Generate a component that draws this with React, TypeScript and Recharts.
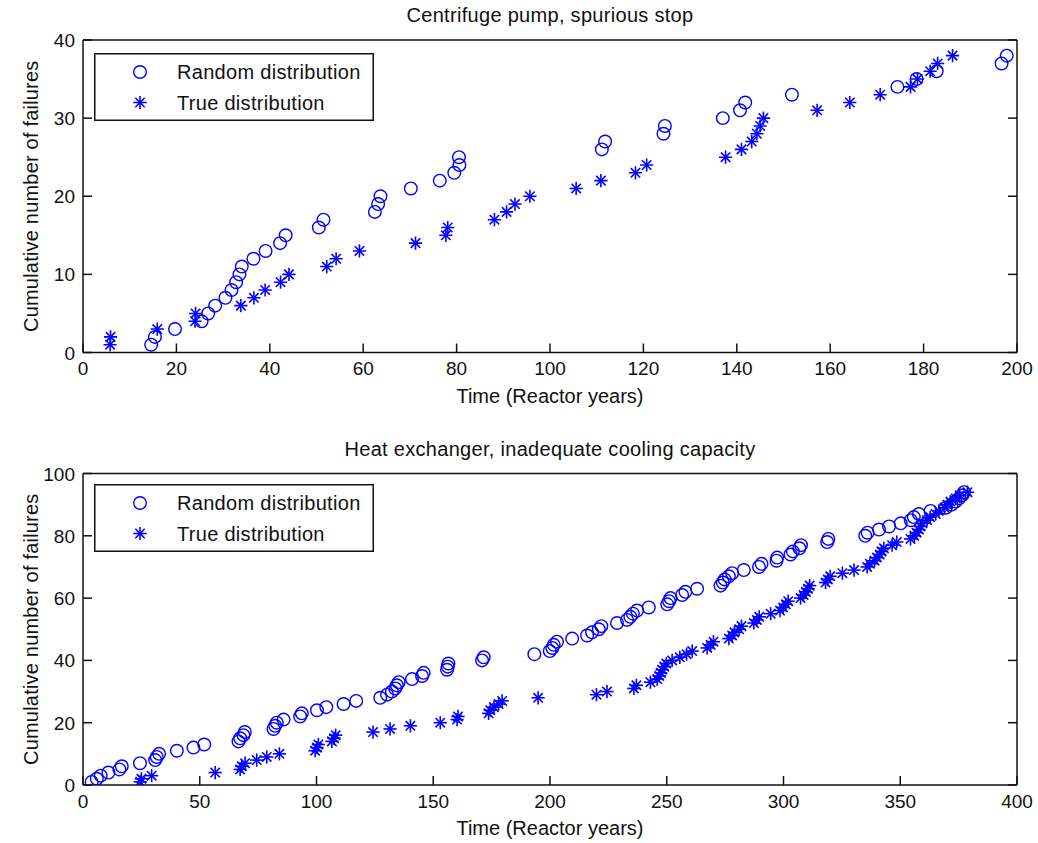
import React from "react";
import { ScatterChart, Scatter, XAxis, YAxis, Legend } from "recharts";

// [time in reactor years, cumulative failures]
const pumpRandom: [number, number][] = [
  [14.6, 1], [15.4, 2], [19.7, 3], [25.4, 4], [26.8, 5], [28.3, 6], [30.5, 7], [31.8, 8],
  [32.8, 9], [33.5, 10], [34.0, 11], [36.5, 12], [39.1, 13], [42.2, 14], [43.4, 15], [50.5, 16],
  [51.5, 17], [62.5, 18], [63.2, 19], [63.7, 20], [70.2, 21], [76.4, 22], [79.5, 23], [80.6, 24],
  [80.5, 25], [111.1, 26], [111.8, 27], [124.3, 28], [124.6, 29], [137.0, 30], [140.7, 31],
  [141.8, 32], [151.8, 33], [174.4, 34], [178.5, 35], [182.8, 36], [196.7, 37], [197.8, 38],
];

const pumpTrue: [number, number][] = [
  [5.8, 1], [5.9, 2], [15.9, 3], [24.0, 4], [24.1, 5], [33.8, 6], [36.6, 7], [39.0, 8],
  [42.3, 9], [44.1, 10], [52.2, 11], [54.2, 12], [59.2, 13], [71.2, 14], [77.7, 15], [78.1, 16],
  [88.1, 17], [90.7, 18], [92.5, 19], [95.7, 20], [105.6, 21], [110.9, 22], [118.3, 23],
  [120.7, 24], [137.6, 25], [141.0, 26], [143.2, 27], [144.3, 28], [145.0, 29], [145.7, 30],
  [157.2, 31], [164.2, 32], [170.7, 33], [177.2, 34], [178.7, 35], [181.4, 36], [183.0, 37],
  [186.2, 38],
];

const hxRandom: [number, number][] = [
  [3.7, 1], [5.9, 2], [7.6, 3], [10.9, 4], [15.6, 5], [16.6, 6], [24.4, 7], [30.9, 8],
  [31.6, 9], [32.6, 10], [40.2, 11], [47.3, 12], [51.9, 13], [66.6, 14], [67.3, 15], [68.7, 16],
  [69.3, 17], [81.6, 18], [82.3, 19], [83.0, 20], [85.9, 21], [93.0, 22], [93.7, 23],
  [100.2, 24], [104.2, 25], [111.6, 26], [117.0, 27], [127.3, 28], [130.2, 29], [132.3, 30],
  [133.7, 31], [134.4, 32], [135.2, 33], [140.9, 34], [145.2, 35], [145.9, 36], [155.9, 37],
  [156.2, 38], [156.5, 39], [170.9, 40], [171.6, 41], [193.3, 42], [199.9, 43], [201.0, 44],
  [201.6, 45], [203.0, 46], [209.5, 47], [215.9, 48], [218.0, 49], [220.9, 50], [222.0, 51],
  [228.7, 52], [233.0, 53], [234.4, 54], [235.5, 55], [237.3, 56], [242.3, 57], [250.2, 58],
  [251.0, 59], [251.6, 60], [256.6, 61], [258.0, 62], [263.0, 63], [273.0, 64], [274.0, 65],
  [274.8, 66], [276.6, 67], [278.0, 68], [283.0, 69], [289.5, 70], [290.6, 71], [297.0, 72],
  [297.3, 73], [303.0, 74], [304.0, 75], [306.8, 76], [307.5, 77], [318.7, 78], [319.2, 79],
  [335.0, 80], [336.0, 81], [340.9, 82], [345.2, 83], [350.2, 84], [354.5, 85], [355.8, 86],
  [358.0, 87], [363.0, 88], [369.5, 89], [372.0, 90], [373.7, 91], [375.2, 92], [376.5, 93],
  [377.3, 94],
];

const hxTrue: [number, number][] = [
  [24.5, 1], [25.0, 2], [29.4, 3], [56.6, 4], [67.3, 5], [68.0, 6], [69.4, 7], [74.4, 8],
  [78.7, 9], [84.1, 10], [99.4, 11], [100.2, 12], [100.8, 13], [106.6, 14], [107.5, 15],
  [108.2, 16], [124.2, 17], [131.5, 18], [140.2, 19], [153.0, 20], [160.2, 21], [160.6, 22],
  [173.7, 23], [174.4, 24], [176.0, 25], [178.0, 26], [179.5, 27], [194.9, 28], [219.9, 29],
  [224.4, 30], [235.9, 31], [237.0, 32], [243.0, 33], [245.9, 34], [246.8, 35], [247.5, 36],
  [248.0, 37], [249.0, 38], [249.8, 39], [252.3, 40], [255.6, 41], [258.5, 42], [260.9, 43],
  [267.3, 44], [268.8, 45], [270.0, 46], [276.6, 47], [278.0, 48], [279.0, 49], [281.0, 50],
  [282.0, 51], [287.3, 52], [288.6, 53], [289.6, 54], [294.5, 55], [298.5, 56], [299.8, 57],
  [301.0, 58], [302.0, 59], [307.3, 60], [308.6, 61], [309.6, 62], [310.5, 63], [311.2, 64],
  [318.0, 65], [319.0, 66], [320.0, 67], [325.2, 68], [330.2, 69], [335.8, 70], [337.0, 71],
  [339.0, 72], [340.0, 73], [341.2, 74], [342.0, 75], [343.0, 76], [346.5, 77], [348.5, 78],
  [354.4, 79], [356.0, 80], [357.0, 81], [358.0, 82], [358.7, 83], [359.5, 84], [361.5, 85],
  [362.8, 86], [365.2, 87], [366.5, 88], [369.0, 89], [370.2, 90], [371.5, 91], [373.8, 92],
  [375.5, 93], [378.8, 94],
];

const pumpTicksX = [0, 20, 40, 60, 80, 100, 120, 140, 160, 180, 200];
const pumpTicksY = [0, 10, 20, 30, 40];
const hxTicksX = [0, 50, 100, 150, 200, 250, 300, 350, 400];
const hxTicksY = [0, 20, 40, 60, 80, 100];

const BLUE = "#0000ff";
const INK = "#111";
const FONT = '"Liberation Sans", Arial, Helvetica, sans-serif';
const TICK = 9;

const toPoints = (rows: [number, number][]) => rows.map(([t, n]) => ({ t, n }));

function Ring({ cx, cy }: any) {
  return <circle cx={cx} cy={cy} r={6.3} fill="none" stroke={BLUE} strokeWidth={1.4} />;
}

function Star({ cx, cy }: any) {
  const a = 6.6;
  const d = 4.7;
  return (
    <g stroke={BLUE} strokeWidth={1.6}>
      <line x1={cx - a} y1={cy} x2={cx + a} y2={cy} />
      <line x1={cx} y1={cy - a} x2={cx} y2={cy + a} />
      <line x1={cx - d} y1={cy - d} x2={cx + d} y2={cy + d} />
      <line x1={cx - d} y1={cy + d} x2={cx + d} y2={cy - d} />
    </g>
  );
}

function BottomTick({ x, y, payload }: any) {
  return (
    <g>
      <line x1={x} y1={y} x2={x} y2={y - TICK} stroke={INK} strokeWidth={1.5} />
      <text x={x} y={y + 22.5} textAnchor="middle" fontSize={19} fontFamily={FONT} fill={INK}>
        {payload.value}
      </text>
    </g>
  );
}

function TopTick({ x, y }: any) {
  return <line x1={x} y1={y} x2={x} y2={y + TICK} stroke={INK} strokeWidth={1.5} />;
}

function LeftTick({ x, y, payload }: any) {
  return (
    <g>
      <line x1={x} y1={y} x2={x + TICK} y2={y} stroke={INK} strokeWidth={1.5} />
      <text x={x - 8} y={y + 7} textAnchor="end" fontSize={19} fontFamily={FONT} fill={INK}>
        {payload.value}
      </text>
    </g>
  );
}

function RightTick({ x, y }: any) {
  return <line x1={x} y1={y} x2={x - TICK} y2={y} stroke={INK} strokeWidth={1.5} />;
}

function YLabel(props: any) {
  const vb = props.viewBox || { x: 33, width: 50, y: 40, height: 312 };
  const cx = vb.x + vb.width - 45;
  const cy = vb.y + vb.height / 2;
  return (
    <text x={cx} y={cy} transform={`rotate(-90 ${cx} ${cy})`} textAnchor="middle"
      fontSize={20} fontFamily={FONT} fill={INK} letterSpacing={0.2}>
      Cumulative number of failures
    </text>
  );
}

function LegendBox({ payload }: any) {
  const items = payload || [];
  return (
    <svg width={280} height={68} style={{ display: "block" }}>
      <rect x={0.75} y={0.75} width={278.5} height={66.5} fill="#fff" stroke={INK} strokeWidth={1.5} />
      {items.map((item: any, i: number) => {
        const cy = 19 + i * 30.5;
        return (
          <g key={item.value}>
            {i === 0 ? <Ring cx={46} cy={cy} /> : <Star cx={46} cy={cy} />}
            <text x={83} y={cy + 7} fontSize={20} fontFamily={FONT} fill={INK} letterSpacing={0.3}>
              {item.value}
            </text>
          </g>
        );
      })}
    </svg>
  );
}

const axisLine = { stroke: INK, strokeWidth: 1.5 };

function Panel({ title, xTicks, yTicks, random, truth, height, margin, legendTop }: any) {
  const xMax = xTicks[xTicks.length - 1];
  const yMax = yTicks[yTicks.length - 1];
  return (
    <ScatterChart width={1038} height={height} margin={margin}>
      <XAxis xAxisId="b" dataKey="t" type="number" domain={[0, xMax]} ticks={xTicks} interval={0}
        height={30} tickSize={0} tickMargin={0} tickLine={false} tick={<BottomTick />} axisLine={axisLine}
        allowDataOverflow
        label={{ value: "Time (Reactor years)", position: "bottom", offset: 6, fill: INK, fontSize: 20, fontFamily: FONT }} />
      <XAxis xAxisId="t" orientation="top" type="number" domain={[0, xMax]} ticks={xTicks} interval={0}
        height={20} tickSize={0} tickMargin={0} tickLine={false} tick={<TopTick />} axisLine={axisLine}
        allowDataOverflow
        label={{ value: title, position: "top", offset: -2, fill: INK, fontSize: 20, fontFamily: FONT, letterSpacing: 0.3 }} />
      <YAxis yAxisId="l" dataKey="n" type="number" domain={[0, yMax]} ticks={yTicks} interval={0}
        width={50} tickSize={0} tickMargin={0} tickLine={false} tick={<LeftTick />} axisLine={axisLine}
        allowDataOverflow label={{ content: YLabel }} />
      <YAxis yAxisId="r" orientation="right" type="number" domain={[0, yMax]} ticks={yTicks} interval={0}
        width={10} tickSize={0} tickMargin={0} tickLine={false} tick={<RightTick />} axisLine={axisLine}
        allowDataOverflow />
      <Legend layout="vertical" align="center" verticalAlign="middle" content={<LegendBox />}
        wrapperStyle={{ left: 94, top: legendTop, width: 280, height: 68 }} />
      <Scatter name="Random distribution" data={toPoints(random)} xAxisId="b" yAxisId="l"
        shape={<Ring />} fill={BLUE} isAnimationActive={false} />
      <Scatter name="True distribution" data={toPoints(truth)} xAxisId="b" yAxisId="l"
        shape={<Star />} fill={BLUE} isAnimationActive={false} />
    </ScatterChart>
  );
}

export default function App() {
  return (
    <div style={{ position: "absolute", left: 0, top: 0, width: 1038, height: 843, background: "#fff" }}>
      <Panel title="Centrifuge pump, spurious stop" xTicks={pumpTicksX} yTicks={pumpTicksY}
        random={pumpRandom} truth={pumpTrue} height={421} legendTop={52.5}
        margin={{ top: 20, right: 11, bottom: 38.5, left: 33 }} />
      <Panel title="Heat exchanger, inadequate cooling capacity" xTicks={hxTicksX} yTicks={hxTicksY}
        random={hxRandom} truth={hxTrue} height={422} legendTop={63}
        margin={{ top: 32.5, right: 11, bottom: 28, left: 33 }} />
    </div>
  );
}
